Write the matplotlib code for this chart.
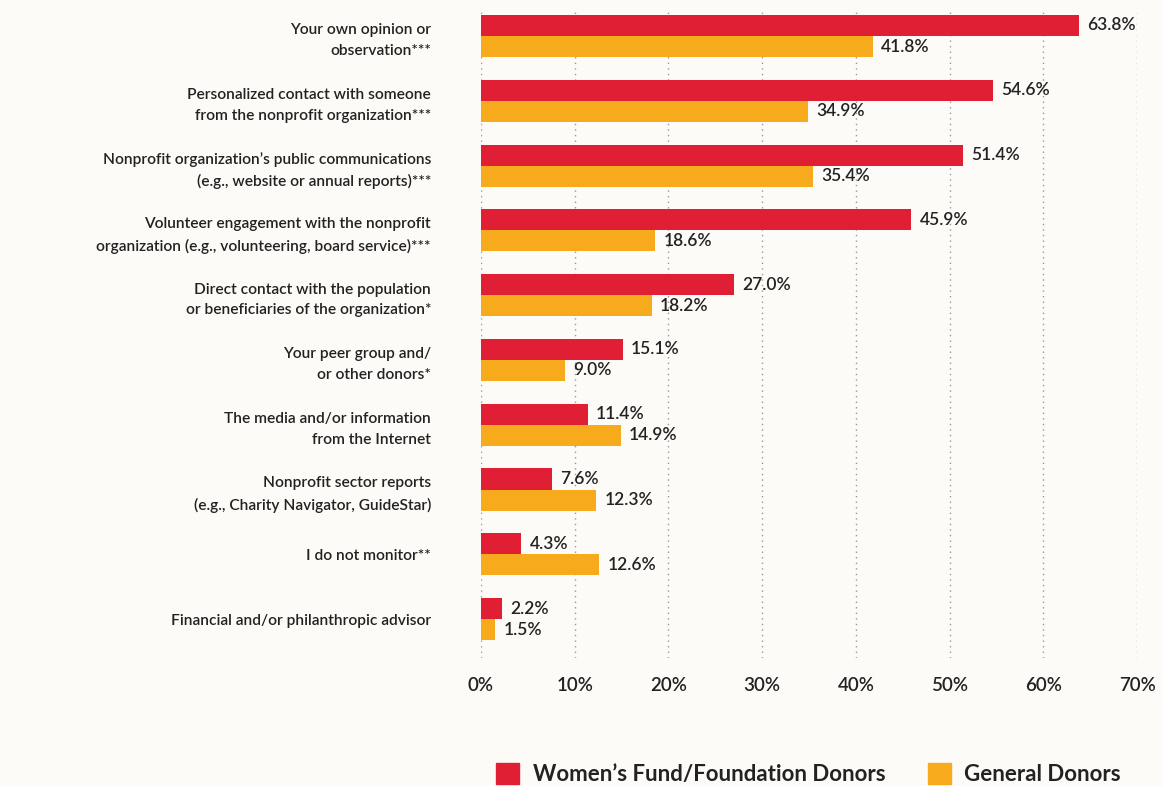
import matplotlib.pyplot as plt
import numpy as np
from matplotlib.patches import Patch

categories = [
    "Your own opinion or\nobservation***",
    "Personalized contact with someone\nfrom the nonprofit organization***",
    "Nonprofit organization\u2019s public communications\n(e.g., website or annual reports)***",
    "Volunteer engagement with the nonprofit\norganization (e.g., volunteering, board service)***",
    "Direct contact with the population\nor beneficiaries of the organization*",
    "Your peer group and/\nor other donors*",
    "The media and/or information\nfrom the Internet",
    "Nonprofit sector reports\n(e.g., Charity Navigator, GuideStar)",
    "I do not monitor**",
    "Financial and/or philanthropic advisor",
]
womens_fund = [63.8, 54.6, 51.4, 45.9, 27.0, 15.1, 11.4, 7.6, 4.3, 2.2]
general = [41.8, 34.9, 35.4, 18.6, 18.2, 9.0, 14.9, 12.3, 12.6, 1.5]
xticks = [0, 10, 20, 30, 40, 50, 60, 70]

bg = '#FCFBF7'
red = '#E01F35'
orange = '#F6AA1C'
txt = '#222222'

plt.rcParams['font.family'] = ['Lato', 'DejaVu Sans']

fig = plt.figure(figsize=(11.63, 7.86), dpi=100, facecolor=bg)
ax = fig.add_axes([481 / 1163, 1 - 658 / 786, (1137 - 481) / 1163, (658 - 12) / 786])
ax.set_facecolor(bg)

y = np.arange(len(categories))
h = 0.325
r1 = ax.barh(y - h / 2, womens_fund, h, color=red)
r2 = ax.barh(y + h / 2, general, h, color=orange)
for rects, vals in ((r1, womens_fund), (r2, general)):
    for rect, v in zip(rects, vals):
        ax.annotate('{:.1f}%'.format(v), (rect.get_width(), rect.get_y() + rect.get_height() / 2),
                    xytext=(6, 0), textcoords='offset points', va='center', ha='left',
                    fontsize=12.5, color=txt, fontweight='semibold')

ax.set_xlim(0, 70)
ax.set_ylim(9.6, -0.37)
ax.set_xticks(xticks)
ax.set_xticklabels(['{}%'.format(t) for t in xticks], fontsize=13.5, color=txt, fontweight='semibold')
ax.set_yticks(y)
ax.set_yticklabels(categories, fontsize=11.2, color=txt, fontweight='semibold', linespacing=1.6)
ax.tick_params(axis='both', length=0)
ax.tick_params(axis='x', pad=14)
ax.tick_params(axis='y', pad=36)
for lbl in ax.get_yticklabels():
    lbl.set_multialignment('right')
ax.grid(True, axis='x', linestyle=(0, (1, 3)), color='#999999', linewidth=1)
ax.set_axisbelow(True)
for s in ax.spines.values():
    s.set_visible(False)

handles = [Patch(color=red, label='Women\u2019s Fund/Foundation Donors'),
           Patch(color=orange, label='General Donors')]
leg = fig.legend(handles=handles, loc='lower left', bbox_to_anchor=(476 / 1163, -0.024), ncol=2,
                 frameon=False, handlelength=1.05, handleheight=1.05, columnspacing=1.9,
                 handletextpad=0.6, prop={'size': 16, 'weight': 'bold'})
for t in leg.get_texts():
    t.set_color(txt)

fig.savefig('out.png', dpi=100, facecolor=bg)
